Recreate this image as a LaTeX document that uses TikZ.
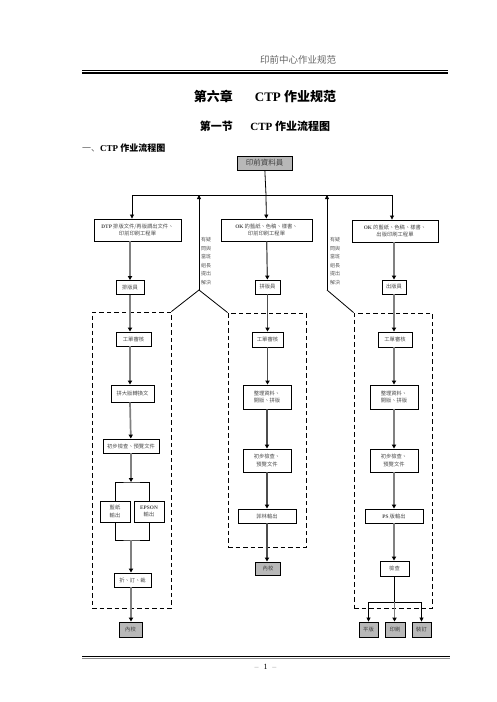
\documentclass[tikz,border=0pt]{standalone}
\usepackage{fontspec}
\setmainfont{Liberation Serif}
\newfontfamily\cjk{Noto Sans CJK TC}
\newfontfamily\cjksc{Noto Sans CJK SC}
\usetikzlibrary{arrows.meta}
\newcommand\boxfont{\cjk\fontsize{5.3}{7.2}\selectfont}
\newcommand\lat[1]{{\rmfamily\bfseries #1}}

\begin{document}
\begin{tikzpicture}[x=1pt,y=-1pt,
  stepbox/.style={draw,line width=.9pt,fill=white,font=\boxfont,text=black!70,inner sep=.5pt,align=center},
  endbox/.style={stepbox,fill=black!28,text=black!75},
  grp/.style={draw,line width=.9pt,dash pattern=on 4.5pt off 3pt,inner sep=0pt},
  note/.style={font=\cjk\fontsize{5}{8.6}\selectfont,text=black!65,align=center,inner sep=0pt},
  feed/.style={-{Triangle[length=4pt,width=4pt]},line width=.8pt},
  flow/.style={-{Triangle[length=4pt,width=4.2pt,color=black]},line width=1.7pt,draw=black!50},
  flowdk/.style={-{Triangle[length=4pt,width=4.2pt,color=black]},line width=1.2pt,draw=black!70}]
\useasboundingbox (0,0) rectangle (496,702);
\fill[white] (0,0) rectangle (496,702);

% page head
\node[font=\cjksc\fontsize{9.5}{11}\selectfont,text=black!60] (hdr) at (298,60) {印前中心作业规范};
\draw[line width=.5pt] (82,70.3) -- (448,70.3);
\draw[line width=1.7pt] (82,73.2) -- (448,73.2);
\node[font=\bfseries\fontsize{13}{15}\selectfont] (chap) at (265,96) {{\cjksc 第六章}\hspace{1.7em}CTP {\cjksc 作业规范}};
\node[font=\bfseries\fontsize{11}{13}\selectfont] (sect) at (265,126) {{\cjksc 第一节}\hspace{1.6em}CTP {\cjksc 作业流程图}};
\node[anchor=west,font=\fontsize{9}{11}\selectfont,inner sep=0pt] (sub) at (82,148) {{\cjksc\color{black!60}一、}\textbf{CTP {\cjksc 作业流程图}}};

% source and the three entries
\node[endbox,minimum width=55,minimum height=14,font=\cjk\fontsize{7.5}{9}\selectfont] (src) at (264.5,163) {印前資料員};
\coordinate (hub) at (266,195);
\coordinate (hubL) at (132,195);
\coordinate (hubR) at (392,195);
\node[stepbox,minimum width=87,minimum height=22] (dtp) at (137.5,230) {\lat{DTP} 排版文件/再版調出文件、\\印前印刷工程單};
\node[stepbox,minimum width=91,minimum height=22] (okM) at (266.5,230) {\lat{OK} 的藍紙、色稿、樣書、\\印前印刷工程單};
\node[stepbox,minimum width=86,minimum height=22] (okR) at (395,231) {\lat{OK} 的藍紙、色稿、樣書、\\出版印刷工程單};
\node[stepbox,minimum width=28,minimum height=14] (opL) at (130,287.5) {排版員};
\node[stepbox,minimum width=25,minimum height=14] (opM) at (267.5,287) {拼版員};
\node[stepbox,minimum width=24,minimum height=14] (opR) at (394,287) {出版員};

% frames
\node[grp,minimum width=79,minimum height=296] (grpL) at (131.5,460) {};
\node[grp,minimum width=78,minimum height=234] (grpM) at (267,430) {};
\node[grp,minimum width=78,minimum height=295] (grpR) at (393,460.5) {};

% left column
\node[stepbox,minimum width=35,minimum height=14] (chkL) at (133.5,339) {工單審核};
\node[stepbox,minimum width=43,minimum height=17] (impL) at (132.5,393.5) {拼大版轉換文};
\node[stepbox,minimum width=56,minimum height=14] (preL) at (131,446) {初步檢查、預覽文件};
\coordinate (fork) at (131,482);
\node[stepbox,minimum width=30,minimum height=21] (blue) at (115,511.5) {藍紙\\輸出};
\node[stepbox,minimum width=30,minimum height=21] (epson) at (149,511.5) {\lat{EPSON}\\輸出};
\coordinate (join) at (131,540);
\node[stepbox,minimum width=37,minimum height=14] (fldL) at (132.5,580) {折、訂、裁};
\node[endbox,minimum width=23,minimum height=15] (qcL) at (130.5,629.5) {內校};

% middle column
\node[stepbox,minimum width=31,minimum height=15] (chkM) at (267.5,339.5) {工單審核};
\node[stepbox,minimum width=48,minimum height=24] (arrM) at (267,397) {整理資料、\\開版、拼版};
\node[stepbox,minimum width=48,minimum height=23] (preM) at (267,460.5) {初步檢查、\\預覽文件};
\node[stepbox,minimum width=58,minimum height=14] (film) at (267,516) {菲林輸出};
\node[endbox,minimum width=25,minimum height=13] (qcM) at (268,568.5) {內校};

% right column
\node[stepbox,minimum width=34,minimum height=15] (chkR) at (395,339.5) {工單審核};
\node[stepbox,minimum width=48,minimum height=24] (arrR) at (394,397) {整理資料、\\開版、拼版};
\node[stepbox,minimum width=48,minimum height=23] (preR) at (394,460.5) {初步檢查、\\預覽文件};
\node[stepbox,minimum width=58,minimum height=14] (ps) at (394,516) {\lat{PS} 版輸出};
\node[stepbox,minimum width=29,minimum height=15] (insp) at (394.5,568.5) {檢查};
\coordinate (split) at (394.5,602);
\node[endbox,minimum width=19,minimum height=15] (outA) at (368.5,629.5) {平版};
\node[endbox,minimum width=20,minimum height=15] (outB) at (395,629.5) {印刷};
\node[endbox,minimum width=19,minimum height=15] (outC) at (421.5,629.5) {裝訂};

% notes going back up
\coordinate (apexL) at (199,290);
\coordinate (apexR) at (327,290);
\node[note] (noteL) at (206,261) {有疑\\問與\\當班\\組長\\提出\\解決};
\node[note] (noteR) at (335,261) {有疑\\問與\\當班\\組長\\提出\\解決};

% connectors
\draw[line width=.8pt] (src) -- (hub);
\draw[line width=.8pt] (hubL) -- (hubR);
\draw[feed] (hubL) -- (hubL |- dtp.north);
\draw[feed] (hub) -- (okM);
\draw[feed] (hubR) -- (hubR |- okR.north);
\draw[feed] (apexL) -- (apexL |- hub);
\draw[feed] (apexR) -- (apexR |- hub);
\draw[line width=.8pt] (grpL.north east) -- (apexL) -- (grpM.north west);
\draw[line width=.8pt] (apexR) -- (grpR.north west);

\draw[flow] (opL |- dtp.south) -- (opL);
\draw[flow] (opL) -- (opL |- chkL.north);
\draw[flow] (opL |- chkL.south) -- (opL |- impL.north);
\draw[flow] (opL |- impL.south) -- (preL);
\draw[flow] (preL) -- (fork);
\draw[line width=.8pt] (blue.north) |- (fork) -| (epson.north);
\draw[line width=.8pt] (blue.south) |- (join) -| (epson.south);
\draw[flow] (join) -- (join |- fldL.north);
\draw[flow] (join |- fldL.south) -- (join |- qcL.north);

\draw[flowdk] (okM) -- (opM);
\draw[flowdk] (opM) -- (opM |- chkM.north);
\draw[flowdk] (chkM) -- (chkM |- arrM.north);
\draw[flowdk] (arrM) -- (preM);
\draw[flowdk] (preM) -- (film);
\draw[flowdk] (film) -- (film |- qcM.north);

\draw[flow] (opR |- okR.south) -- (opR);
\draw[flow] (opR) -- (opR |- chkR.north);
\draw[flow] (opR |- chkR.south) -- (arrR);
\draw[flow] (arrR) -- (preR);
\draw[flow] (preR) -- (ps);
\draw[flow] (ps) -- (ps |- insp.north);
\draw[line width=.8pt] (insp) -- (split);
\draw[feed] (split) -| (outA.north);
\draw[feed] (split) -| (outC.north);
\draw[flow] (split) -- (split |- outB.north);

% page foot
\draw[line width=1.3pt] (82,656.6) -- (450,656.6);
\draw[line width=.6pt,black!45] (82,658.3) -- (450,658.3);
\node[font=\fontsize{8}{10}\selectfont] (pg) at (265.5,667) {{\color{black!40}--}\hspace{.6em}1\hspace{.6em}{\color{black!40}--}};
\end{tikzpicture}
\end{document}
